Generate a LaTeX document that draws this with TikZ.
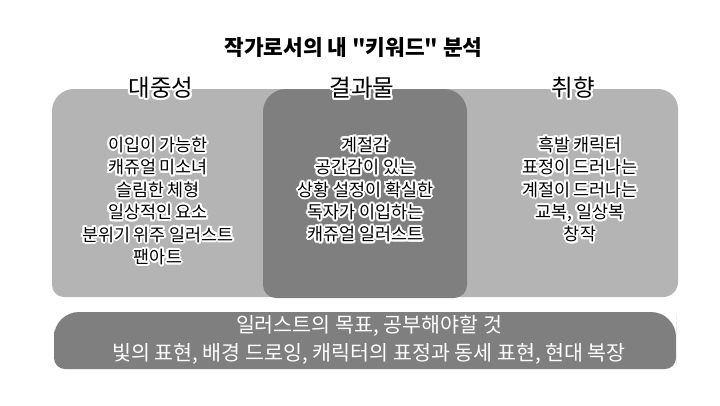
\documentclass[tikz,border=0pt]{standalone}
\usepackage{fontspec}
\setmainfont{Noto Sans CJK KR}[Ligatures=TeXOff]
\definecolor{lgray}{HTML}{B4B4B4}
\definecolor{dgray}{HTML}{7F7F7F}
\newsavebox\glowW
\newsavebox\glowK
\newcommand\glow[1]{%
  \sbox\glowW{\color{white}#1}%
  \sbox\glowK{#1}%
  \foreach \dx/\dy in {2/0, 1.85/0.77, 1.41/1.41, 0.77/1.85, 0/2, -0.77/1.85, -1.41/1.41, -1.85/0.77, -2/0, -1.85/-0.77, -1.41/-1.41, -0.77/-1.85, 0/-2, 0.77/-1.85, 1.41/-1.41, 1.85/-0.77, 1/0, -1/0, 0/1, 0/-1}{%
    \rlap{\kern\dx pt\raise\dy pt\copy\glowW}}%
  \usebox\glowK}
\tikzset{
  bodytext/.style={align=center, inner sep=0pt, font=\fontsize{17.4}{22.4}\selectfont},
  headtext/.style={align=center, inner sep=0pt, font=\fontsize{23.5}{28}\selectfont},
  titletext/.style={align=center, inner sep=0pt, font=\fontsize{21.4}{26}\selectfont\bfseries},
  bartext/.style={align=center, inner sep=0pt, text=white, font=\fontsize{20.6}{28}\selectfont}
}
\begin{document}
\begin{tikzpicture}[x=1pt,y=-1pt]
\useasboundingbox (0,0) rectangle (720,405);
\fill[white] (0,0) rectangle (720,405);
% light background box
\fill[lgray] (52,193) [rounded corners=22pt] -- (52,89) -- (365,89)
  [rounded corners=20pt] -- (678,89) -- (678,193)
  [rounded corners=15pt] -- (678,297) -- (365,297)
  [rounded corners=12pt] -- (52,297) -- cycle;
% dark middle box
\fill[dgray] (263,193) [rounded corners=23pt] -- (263,89) -- (467,89) -- (467,193)
  [rounded corners=13pt] -- (467,298) -- (263,298) -- cycle;
% bottom bar
\fill[dgray] (54,340) [rounded corners=25pt] -- (54,312) -- (676,312) -- (676,340)
  [rounded corners=11pt] -- (676,369) -- (54,369) -- cycle;

\node[titletext] (title) at (353.5,47.5) {\glow{작가로서의 내 "키워드" 분석}};

\node[headtext] (h1) at (161,88) {\glow{대중성}};
\node[headtext] (h2) at (362,88) {\glow{결과물}};
\node[headtext] (h3) at (573.5,88) {\glow{취향}};

\node[bodytext] (b1) at (158,201) {\glow{이입이 가능한}\\\glow{캐쥬얼 미소녀}\\\glow{슬림한 체형}\\\glow{일상적인 요소}\\\glow{분위기 위주 일러스트}\\\glow{팬아트}};
\node[bodytext] (b2) at (365.5,189.5) {\glow{계절감}\\\glow{공간감이 있는}\\\glow{상황 설정이 확실한}\\\glow{독자가 이입하는}\\\glow{캐쥬얼 일러스트}};
\node[bodytext] (b3) at (580,189.5) {\glow{흑발 캐릭터}\\\glow{표정이 드러나는}\\\glow{계절이 드러나는}\\\glow{교복, 일상복}\\\glow{창작}};

\node[bartext] (goal) at (369,340) {일러스트의 목표, 공부해야할 것\\빛의 표현, 배경 드로잉, 캐릭터의 표정과 동세 표현, 현대 복장};
\end{tikzpicture}
\end{document}
